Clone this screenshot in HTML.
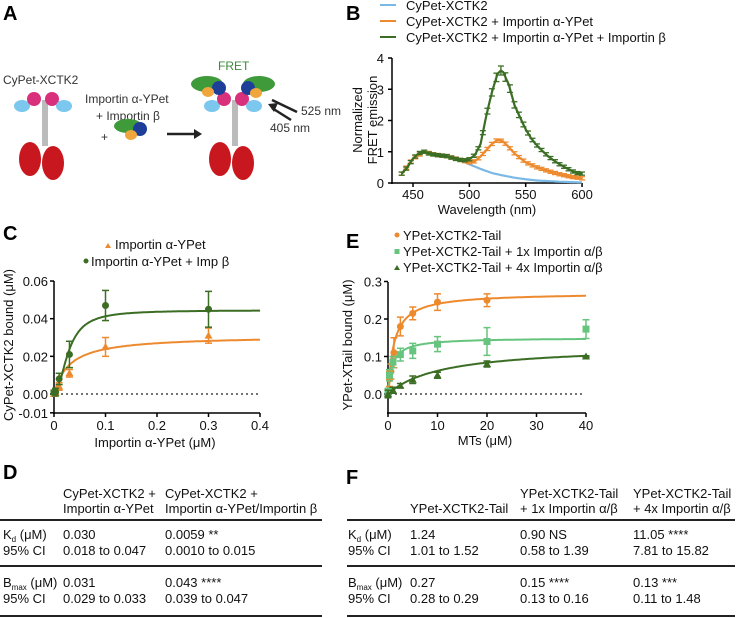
<!DOCTYPE html>
<html><head><meta charset="utf-8"><style>
body{margin:0;background:#fff;}
svg{display:block;font-family:"Liberation Sans",Arial,sans-serif;}
</style></head><body>
<svg id="s" width="737" height="618" viewBox="0 0 737 618" xmlns="http://www.w3.org/2000/svg">
<g font-weight="bold" font-size="20" fill="#000">
<text x="3" y="20">A</text><text x="346" y="20">B</text>
<text x="3" y="240">C</text><text x="346" y="248">E</text>
<text x="3" y="479">D</text><text x="346" y="484">F</text>
</g>
<!-- Panel A -->
<g font-size="12" fill="#333">
<text x="3" y="84">CyPet-XCTK2</text>
<text x="85" y="103">Importin α-YPet</text>
<text x="96" y="120">+ Importin β</text>
<text x="101" y="141">+</text>
<text x="218" y="70" fill="#3c8a3c" font-size="12">FRET</text>
<text x="301" y="115">525 nm</text>
<text x="270" y="132">405 nm</text>
</g>
<g>
<rect x="42" y="100" width="6" height="46" fill="#bbb"/>
<ellipse cx="30" cy="159" rx="11" ry="17" fill="#c8171e"/>
<ellipse cx="53" cy="163" rx="11" ry="17" fill="#c8171e"/>
<ellipse cx="22" cy="106" rx="8" ry="6" fill="#7cc7ee"/>
<ellipse cx="34" cy="99" rx="7" ry="7" fill="#d9307c"/>
<ellipse cx="52" cy="99" rx="7" ry="7" fill="#d9307c"/>
<ellipse cx="64" cy="106" rx="8" ry="6" fill="#7cc7ee"/>
</g>
<ellipse cx="128" cy="126" rx="14" ry="7" fill="#3f9a3a"/>
<ellipse cx="140" cy="129" rx="7" ry="7" fill="#1d3f9a"/>
<ellipse cx="131" cy="135" rx="6" ry="5" fill="#f0a63c"/>
<line x1="167" y1="134" x2="194" y2="134" stroke="#222" stroke-width="2.5"/>
<polygon points="194,129 202,134 194,139" fill="#222"/>
<g transform="translate(190,0)">
<rect x="42" y="100" width="6" height="46" fill="#bbb"/>
<ellipse cx="30" cy="159" rx="11" ry="17" fill="#c8171e"/>
<ellipse cx="53" cy="163" rx="11" ry="17" fill="#c8171e"/>
<ellipse cx="22" cy="106" rx="8" ry="6" fill="#7cc7ee"/>
<ellipse cx="34" cy="99" rx="7" ry="7" fill="#d9307c"/>
<ellipse cx="52" cy="99" rx="7" ry="7" fill="#d9307c"/>
<ellipse cx="64" cy="106" rx="8" ry="6" fill="#7cc7ee"/>
<ellipse cx="17" cy="84" rx="16" ry="8" fill="#3f9a3a"/>
<ellipse cx="29" cy="88" rx="7" ry="7" fill="#1d3f9a"/>
<ellipse cx="18" cy="92" rx="6" ry="5" fill="#f0a63c"/>
<ellipse cx="69" cy="84" rx="16" ry="8" fill="#3f9a3a"/>
<ellipse cx="58" cy="88" rx="7" ry="7" fill="#1d3f9a"/>
<ellipse cx="66" cy="93" rx="6" ry="5" fill="#f0a63c"/>
</g>
<line x1="272" y1="100" x2="297" y2="112" stroke="#222" stroke-width="2.5"/>
<line x1="272" y1="108" x2="291" y2="120" stroke="#222" stroke-width="2.5"/>
<polygon points="268,104 278,103 274,112" fill="#222"/>
<g id="g"></g>
</svg>
<script>
const NS="http://www.w3.org/2000/svg",G=document.getElementById('g');
function el(t,a,txt){const e=document.createElementNS(NS,t);for(const k in a)e.setAttribute(k,a[k]);if(txt!==undefined)e.textContent=txt;G.appendChild(e);return e;}
function txt(x,y,s,o){o=o||{};return el('text',Object.assign({x,y,'font-size':o.fs||12,'text-anchor':o.a||'start',fill:'#111'},o.extra||{}),s);}
function line(x1,y1,x2,y2,c,w,d){const a={x1,y1,x2,y2,stroke:c||'#000','stroke-width':w||1.5};if(d)a['stroke-dasharray']=d;el('line',a);}
function poly(pts,c,w){el('polyline',{points:pts.map(p=>p[0].toFixed(1)+','+p[1].toFixed(1)).join(' '),fill:'none',stroke:c,'stroke-width':w||2});}
const OR='#ee8a2e',DG='#3b6e24',BL='#7ab8e6',LG='#66c47e';
// Panel B
const bx=n=>413+(n-450)*1.127, by=v=>183-v*31.25;
line(392,58,392,184);line(391,183,582,183);
[0,1,2,3,4].forEach(v=>{line(388,by(v),392,by(v));txt(384,by(v)+5,String(v),{a:'end',fs:13});});
[450,500,550,600].forEach(n=>{line(bx(n),183,bx(n),187);txt(bx(n),199,String(n),{a:'middle',fs:13});});
txt(487,214,'Wavelength (nm)',{a:'middle',fs:13});
txt(0,0,'Normalized',{a:'middle',fs:13,extra:{transform:'translate(362,120) rotate(-90)'}});
txt(0,0,'FRET emission',{a:'middle',fs:13,extra:{transform:'translate(377,120) rotate(-90)'}});
[[5,BL,'CyPet-XCTK2'],[21,OR,'CyPet-XCTK2 + Importin α-YPet'],[37,DG,'CyPet-XCTK2 + Importin α-YPet + Importin β']].forEach(r=>{line(380,r[0],396,r[0],r[1],2);txt(406,r[0]+5,r[2],{fs:13});});
function interp(tab,n){for(let i=0;i<tab.length-1;i++){if(n>=tab[i][0]&&n<=tab[i+1][0]){const t=(n-tab[i][0])/(tab[i+1][0]-tab[i][0]);return tab[i][1]+t*(tab[i+1][1]-tab[i][1]);}}return tab[tab.length-1][1];}
const blue=[[440,0.3],[450,0.78],[460,1.0],[470,0.9],[480,0.86],[490,0.76],[500,0.6],[510,0.45],[520,0.32],[530,0.24],[540,0.17],[550,0.12],[560,0.08],[570,0.06],[580,0.04],[590,0.03],[600,0.02]];
const ora=[[440,0.3],[450,0.78],[460,1.0],[470,0.9],[480,0.86],[490,0.76],[500,0.66],[505,0.7],[510,0.85],[515,1.05],[520,1.25],[525,1.38],[530,1.33],[535,1.15],[540,0.95],[545,0.8],[550,0.66],[560,0.5],[570,0.38],[580,0.28],[590,0.2],[600,0.15]];
const grn=[[440,0.3],[445,0.5],[450,0.78],[455,0.95],[460,1.0],[465,0.93],[470,0.9],[475,0.88],[480,0.86],[485,0.8],[490,0.75],[495,0.72],[500,0.76],[505,0.9],[510,1.25],[515,2.15],[520,2.9],[525,3.5],[528,3.6],[530,3.55],[535,3.15],[540,2.5],[545,2.1],[550,1.72],[555,1.42],[560,1.2],[565,1.02],[570,0.85],[575,0.72],[580,0.6],[585,0.5],[590,0.4],[595,0.32],[600,0.3]];
function spec(tab,c,bars){const p=[];for(let n=440;n<=600;n+=1)p.push([bx(n),by(interp(tab,n))]);poly(p,c,2.2);
 if(bars)for(let n=440;n<=600;n+=4){const v=interp(tab,n),e=Math.max(0.05,v*0.04);const x=bx(n);line(x,by(v+e),x,by(v-e),c,1.3);line(x-3,by(v+e),x+3,by(v+e),c,1.3);line(x-3,by(v-e),x+3,by(v-e),c,1.3);}}
spec(blue,BL,false);spec(ora,OR,true);spec(grn,DG,true);
// Panel C
const cx=x=>54+515*x, cy=v=>394-v*1883;
line(54,281,54,414);line(53,413,260,413);
[[0.06,'0.06'],[0.04,'0.04'],[0.02,'0.02'],[0,'0.00'],[-0.01,'-0.01']].forEach(r=>{line(50,cy(r[0]),54,cy(r[0]));txt(48,cy(r[0])+5,r[1],{a:'end',fs:13});});
[[0,'0'],[0.1,'0.1'],[0.2,'0.2'],[0.3,'0.3'],[0.4,'0.4']].forEach(r=>{line(cx(r[0]),413,cx(r[0]),417);txt(cx(r[0]),430,r[1],{a:'middle',fs:13});});
line(56,cy(0),260,cy(0),'#222',1.2,'2,3');
txt(155,447,'Importin α-YPet (μM)',{a:'middle',fs:13});
txt(0,0,'CyPet-XCTK2 bound (μM)',{a:'middle',fs:13,extra:{transform:'translate(13,345) rotate(-90)'}});
el('polygon',{points:'105,248 108,243 111,248',fill:OR});txt(115,249,'Importin α-YPet',{fs:13});
el('circle',{cx:86,cy:261,r:2.5,fill:DG});txt(91,266,'Importin α-YPet + Imp β',{fs:13});
function curve(fx,fy,f,x0,x1,c){const p=[];for(let i=0;i<=200;i++){const x=x0+(x1-x0)*i/200;p.push([fx(x),fy(f(x))]);}poly(p,c,2);}
curve(cx,cy,x=>0.031*x/(0.03+x),0,0.4,OR);
curve(cx,cy,x=>0.0445*Math.pow(x,2)/(Math.pow(0.028,2)+Math.pow(x,2)),0,0.4,DG);
function pts(fx,fy,data,c,shape){data.forEach(d=>{const x=fx(d[0]),y=fy(d[1]),e1=fy(d[1]+d[2]),e2=fy(d[1]-d[2]);if(d[2]>0){line(x,e1,x,e2,c,1.5);line(x-3.5,e1,x+3.5,e1,c,1.5);line(x-3.5,e2,x+3.5,e2,c,1.5);}
 if(shape=='c')el('circle',{cx:x,cy:y,r:3.5,fill:c});else if(shape=='s')el('rect',{x:x-3.5,y:y-3.5,width:7,height:7,fill:c});else el('polygon',{points:`${x-4},${y+3} ${x},${y-4} ${x+4},${y+3}`,fill:c});});}
pts(cx,cy,[[0,0,0.001],[0.003,0.001,0.001],[0.01,0.004,0.002],[0.03,0.011,0.002],[0.1,0.025,0.005],[0.3,0.031,0.004]],OR,'t');
pts(cx,cy,[[0,0.001,0.001],[0.003,0.001,0.002],[0.01,0.008,0.003],[0.03,0.021,0.007],[0.1,0.047,0.008],[0.3,0.045,0.0095]],DG,'c');
// Panel E
const ex=x=>388+4.95*x, ey=v=>394-v*375;
line(388,282,388,414);line(387,413,586,413);
[[0.3,'0.3'],[0.2,'0.2'],[0.1,'0.1'],[0,'0.0']].forEach(r=>{line(384,ey(r[0]),388,ey(r[0]));txt(382,ey(r[0])+5,r[1],{a:'end',fs:13});});
[0,10,20,30,40].forEach(v=>{line(ex(v),413,ex(v),417);txt(ex(v),430,String(v),{a:'middle',fs:13});});
line(390,ey(0),584,ey(0),'#222',1.2,'2,3');
txt(485,445,'MTs (μM)',{a:'middle',fs:13});
txt(0,0,'YPet-XTail bound (μM)',{a:'middle',fs:13,extra:{transform:'translate(352,345) rotate(-90)'}});
el('circle',{cx:397,cy:235,r:2.5,fill:OR});txt(403,240,'YPet-XCTK2-Tail',{fs:13});
el('rect',{x:394.5,y:249,width:5,height:5,fill:LG});txt(403,256,'YPet-XCTK2-Tail + 1x Importin α/β',{fs:13});
el('polygon',{points:'394,270 397,265 400,270',fill:DG});txt(403,272,'YPet-XCTK2-Tail + 4x Importin α/β',{fs:13});
curve(ex,ey,x=>0.27*x/(1.24+x),0,40,OR);
curve(ex,ey,x=>0.15*x/(0.9+x),0,40,LG);
curve(ex,ey,x=>0.13*x/(11.05+x),0,40,DG);
pts(ex,ey,[[0,0,0.005],[0.3,0.04,0.02],[0.6,0.06,0.02],[1.2,0.11,0.04],[2.5,0.18,0.025],[5,0.215,0.017],[10,0.245,0.022],[20,0.25,0.017]],OR,'c');
pts(ex,ey,[[0,0.005,0.01],[0.3,0.05,0.015],[1,0.085,0.015],[2.5,0.105,0.017],[5,0.115,0.02],[10,0.133,0.02],[20,0.14,0.037],[40,0.173,0.025]],LG,'s');
pts(ex,ey,[[0,0,0.01],[1,0.01,0.008],[2.5,0.022,0.006],[5,0.038,0.01],[10,0.05,0.008],[20,0.08,0.008],[40,0.1,0.002]],DG,'t');
// Tables
function T(x,y,s){return txt(x,y,s,{fs:13});}
T(63,498,'CyPet-XCTK2 +');T(63,513,'Importin α-YPet');T(165,498,'CyPet-XCTK2 +');T(165,513,'Importin α-YPet/Importin β');
line(0,520,322,520,'#222',2);line(0,566,322,566,'#222',2);line(0,616,322,616,'#222',2);
el('text',{x:3,y:539,'font-size':13,fill:'#111'}).innerHTML='K<tspan font-size="8" dy="3">d</tspan><tspan dy="-3"> (μM)</tspan>';
T(3,555,'95% CI');T(63,539,'0.030');T(63,555,'0.018 to 0.047');T(165,539,'0.0059 **');T(165,555,'0.0010 to 0.015');
el('text',{x:3,y:587,'font-size':13,fill:'#111'}).innerHTML='B<tspan font-size="8" dy="3">max</tspan><tspan dy="-3"> (μM)</tspan>';
T(3,603,'95% CI');T(63,587,'0.031');T(63,603,'0.029 to 0.033');T(165,587,'0.043 ****');T(165,603,'0.039 to 0.047');
T(410,513,'YPet-XCTK2-Tail');T(520,498,'YPet-XCTK2-Tail');T(520,513,'+ 1x Importin α/β');T(633,498,'YPet-XCTK2-Tail');T(633,513,'+ 4x Importin α/β');
line(347,520,735,520,'#222',2);line(347,566,735,566,'#222',2);line(347,616,735,616,'#222',2);
el('text',{x:348,y:539,'font-size':13,fill:'#111'}).innerHTML='K<tspan font-size="8" dy="3">d</tspan><tspan dy="-3"> (μM)</tspan>';
T(348,555,'95% CI');T(410,539,'1.24');T(410,555,'1.01 to 1.52');T(520,539,'0.90 NS');T(520,555,'0.58 to 1.39');T(633,539,'11.05 ****');T(633,555,'7.81 to 15.82');
el('text',{x:348,y:587,'font-size':13,fill:'#111'}).innerHTML='B<tspan font-size="8" dy="3">max</tspan><tspan dy="-3"> (μM)</tspan>';
T(348,603,'95% CI');T(410,587,'0.27');T(410,603,'0.28 to 0.29');T(520,587,'0.15 ****');T(520,603,'0.13 to 0.16');T(633,587,'0.13 ***');T(633,603,'0.11 to 1.48');
</script>
</body></html>
